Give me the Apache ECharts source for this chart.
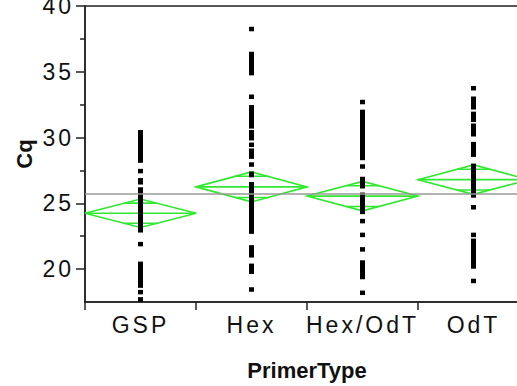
<!DOCTYPE html>
<html>
<head>
<meta charset="utf-8">
<script src="https://cdn.jsdelivr.net/npm/echarts@6/dist/echarts.min.js"></script>
<style>
  html, body { margin: 0; padding: 0; background: #fff; }
</style>
</head>
<body>
<div id="main" style="width: 517px;height:386px;"></div>
<script>
// 分类
const primerTypes = ['GSP', 'Hex', 'Hex/OdT', 'OdT']

// 每组的 Cq 值
const gspCq = [30.4, 30.2, 30.0, 29.8, 29.6, 29.4, 29.2, 29.0, 28.8, 28.6, 28.4, 28.25,
  27.45, 26.75, 26.6,
  26.05, 25.85, 25.65, 25.45, 25.25, 25.05, 24.85, 24.65, 24.45, 24.25, 24.05, 23.85, 23.65, 23.45, 23.25, 23.05, 22.95,
  21.9, 20.4, 20.2, 20.0, 19.8, 19.6, 19.4, 19.2, 19.0, 18.8, 18.75, 18.25, 17.7]
const hexCq = [38.25, 36.35, 36.15, 35.95, 35.75, 35.55, 35.35, 35.15, 34.95, 34.9,
  33.1, 32.3, 32.1, 31.9, 31.7, 31.5, 31.3, 31.1, 30.9, 30.85,
  30.4, 30.2, 30.0, 29.95, 29.45, 29.0, 28.8, 28.6, 28.55, 27.95, 27.25, 27.15,
  26.45, 26.25, 26.05, 25.85, 25.65, 25.45, 25.25, 25.05, 24.85, 24.65, 24.45, 24.25, 24.05, 23.85, 23.65, 23.45, 23.25, 23.05, 22.85,
  21.65, 21.45, 21.25, 21.05, 20.25, 20.05, 19.8, 18.45]
const hexOdtCq = [32.7, 31.95, 31.75, 31.55, 31.35, 31.15, 30.95, 30.75, 30.55, 30.35, 30.15, 29.95, 29.75, 29.55, 29.35, 29.15, 28.95, 28.75, 28.55, 28.45,
  27.8, 26.85, 26.65, 26.45, 26.3,
  25.65, 25.45, 25.25, 25.05, 24.85, 24.65, 24.45, 24.35,
  23.65, 22.6, 21.5, 20.5, 20.3, 20.1, 19.9, 19.7, 19.5, 19.4, 18.2]
const odtCq = [33.75, 32.95, 32.75, 32.55, 32.3, 31.8, 31.6, 31.35, 30.9, 30.7, 30.5, 30.25,
  29.5, 29.3, 29.1, 28.9, 28.7,
  27.85, 27.65, 27.45, 27.25, 27.05, 26.85, 26.65, 26.45, 26.25, 26.05, 25.85, 25.6,
  24.7, 22.6, 22.15, 21.95, 21.75, 21.55, 21.35, 21.15, 20.95, 20.75, 20.55, 20.35, 20.2, 19.1]

// 均值菱形：均值和 95% 置信区间半宽
const groupMeans = [24.25, 26.25, 25.55, 26.8]
const groupHalfCI = [1.08, 1.14, 1.12, 1.12]
const grandMean = 25.74

// 刻度
const yMajorTicks = [20, 25, 30, 35, 40]
const yMinorTicks = [22.5, 27.5, 32.5, 37.5]

const myChart = echarts.init(document.getElementById('main'), null, { renderer: 'svg' })

const pointData = []
const groups = [gspCq, hexCq, hexOdtCq, odtCq]
for (let i = 0; i < groups.length; i++) {
  for (let j = 0; j < groups[i].length; j++) {
    pointData.push([i, groups[i][j]])
  }
}

const diamondData = groupMeans.map(function (m, i) {
  return [i, m, groupHalfCI[i]]
})

const green = '#2fe82f'

const option = {
  animation: false,
  grid: {
    left: 85,
    top: 6,
    right: -12,
    bottom: 84,
    outerBoundsMode: 'none',
    show: true,
    borderColor: '#222',
    borderWidth: 1.5
  },
  xAxis: {
    type: 'category',
    data: primerTypes,
    name: 'PrimerType',
    nameLocation: 'middle',
    nameGap: 57,
    nameTextStyle: {
      fontFamily: 'Liberation Sans',
      fontWeight: 'bold',
      fontSize: 22,
      color: '#111'
    },
    axisLine: { lineStyle: { color: '#222', width: 1.5 } },
    axisTick: { show: true, length: 8, lineStyle: { color: '#222', width: 1.5 } },
    axisLabel: {
      interval: 0,
      margin: 11,
      fontFamily: 'Liberation Sans',
      fontSize: 23,
      color: '#111'
    }
  },
  yAxis: [{
    type: 'value',
    min: 17.5,
    max: 40,
    interval: 2.5,
    name: 'Cq',
    nameLocation: 'middle',
    nameRotate: 90,
    nameGap: 50,
    nameTextStyle: {
      fontFamily: 'Liberation Sans',
      fontWeight: 'bold',
      fontSize: 22,
      color: '#111'
    },
    axisLine: { show: true, lineStyle: { color: '#222', width: 1.5 } },
    axisTick: { show: true, length: 9, customValues: yMajorTicks, lineStyle: { color: '#222', width: 1.5 } },
    axisLabel: {
      customValues: yMajorTicks,
      margin: 11,
      fontFamily: 'Liberation Sans',
      fontSize: 23,
      color: '#111'
    },
    splitLine: { show: false }
  }, {
    type: 'value',
    min: 17.5,
    max: 40,
    interval: 2.5,
    position: 'left',
    axisLine: { show: false },
    axisTick: { show: true, length: 5, customValues: yMinorTicks, lineStyle: { color: '#222', width: 1.5 } },
    axisLabel: { show: false },
    splitLine: { show: false }
  }],
  series: [{
    type: 'custom',
    data: diamondData,
    z: 2,
    renderItem: function (params, api) {
      const i = api.value(0)
      const mean = api.value(1)
      const half = api.value(2)
      const c = api.coord([i, mean])
      const w = api.size([1, 0])[0]
      const top = api.coord([i, mean + half])[1]
      const bot = api.coord([i, mean - half])[1]
      const k = half / Math.SQRT2
      const o1 = api.coord([i, mean + k])[1]
      const o2 = api.coord([i, mean - k])[1]
      const ow = w / 2 * (1 - 1 / Math.SQRT2)
      const style = { stroke: green, lineWidth: 1.6, fill: null }
      return {
        type: 'group',
        children: [{
          type: 'polygon',
          shape: { points: [[c[0] - w / 2, c[1]], [c[0], top], [c[0] + w / 2, c[1]], [c[0], bot]] },
          style: style
        }, {
          type: 'line',
          shape: { x1: c[0] - w / 2, y1: c[1], x2: c[0] + w / 2, y2: c[1] },
          style: style
        }, {
          type: 'line',
          shape: { x1: c[0] - ow, y1: o1, x2: c[0] + ow, y2: o1 },
          style: style
        }, {
          type: 'line',
          shape: { x1: c[0] - ow, y1: o2, x2: c[0] + ow, y2: o2 },
          style: style
        }]
      }
    },
    markLine: {
      silent: true,
      symbol: 'none',
      label: { show: false },
      lineStyle: { color: '#999', width: 1.5, type: 'solid' },
      data: [{ yAxis: grandMean }]
    }
  }, {
    type: 'scatter',
    data: pointData,
    z: 3,
    symbol: 'rect',
    symbolSize: [5, 4.5],
    itemStyle: { color: '#000', opacity: 1 }
  }]
}

myChart.setOption(option)

// 刻度文字加字距
document.querySelectorAll('#main text').forEach(function (t) {
  if (t.textContent !== 'Cq' && t.textContent !== 'PrimerType') {
    t.style.letterSpacing = '3px'
  }
})
</script>
</body>
</html>
